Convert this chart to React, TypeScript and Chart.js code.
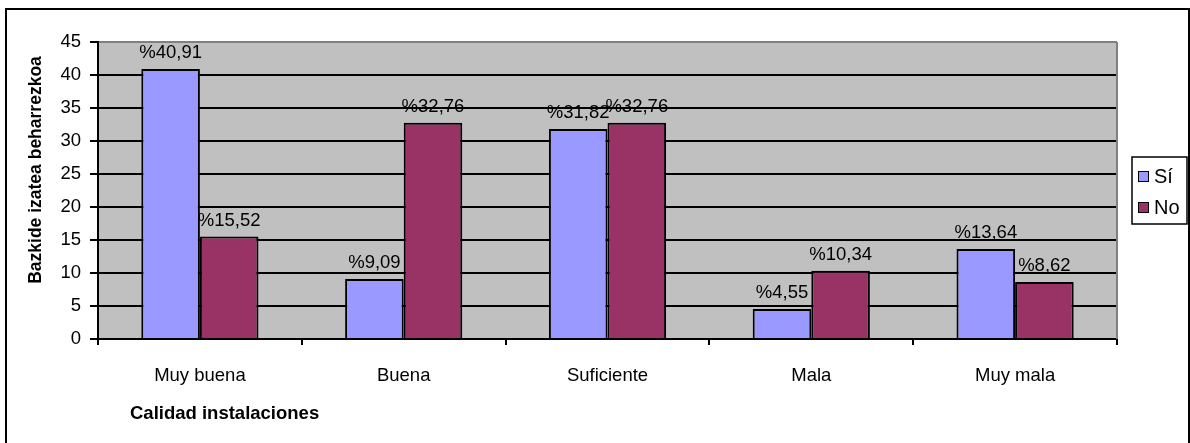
import React, { useEffect, useRef } from "react";
import { Chart, registerables } from "chart.js";

Chart.register(...registerables);

const categories = ["Muy buena", "Buena", "Suficiente", "Mala", "Muy mala"];
const seriesNames = ["Sí", "No"];
const siValues = [40.91, 9.09, 31.82, 4.55, 13.64];
const noValues = [15.52, 32.76, 32.76, 10.34, 8.62];
const seriesColors = ["#9999FF", "#993366"];
const yTitle = "Bazkide izatea beharrezkoa";
const xTitle = "Calidad instalaciones";

const FONT = "'Liberation Sans', Arial, sans-serif";

const fmt = (v: number) => "%" + v.toFixed(2).replace(".", ",");

const decorPlugin = {
  id: "decor",
  beforeDraw(chart: any) {
    const { ctx, chartArea } = chart;
    ctx.save();
    ctx.fillStyle = "#ffffff";
    ctx.fillRect(0, 0, chart.width, chart.height);
    ctx.fillStyle = "#C0C0C0";
    ctx.fillRect(chartArea.left, chartArea.top, chartArea.right - chartArea.left, chartArea.bottom - chartArea.top);
    ctx.restore();
  },
  afterDatasetsDraw(chart: any) {
    const { ctx, chartArea } = chart;
    ctx.save();
    ctx.strokeStyle = "#808080";
    ctx.lineWidth = 2;
    ctx.beginPath();
    ctx.moveTo(chartArea.right, chartArea.top);
    ctx.lineTo(chartArea.right, chartArea.bottom);
    ctx.stroke();
    ctx.fillStyle = "#000";
    ctx.font = `18.5px ${FONT}`;
    ctx.textAlign = "center";
    ctx.textBaseline = "alphabetic";
    chart.data.datasets.forEach((ds: any, di: number) => {
      const meta = chart.getDatasetMeta(di);
      meta.data.forEach((el: any, i: number) => {
        ctx.fillText(fmt(ds.data[i]), el.x, el.y - 11);
      });
    });
    ctx.restore();
  },
  afterDraw(chart: any) {
    const { ctx } = chart;
    ctx.save();
    ctx.strokeStyle = "#000";
    ctx.lineWidth = 2;
    ctx.strokeRect(6, 9, 1183, 460);
    ctx.fillStyle = "#000";
    ctx.font = `bold 18.5px ${FONT}`;
    ctx.textAlign = "left";
    ctx.textBaseline = "alphabetic";
    ctx.fillText(xTitle, 130, 419);
    ctx.save();
    ctx.translate(36, 170);
    ctx.rotate(-Math.PI / 2);
    ctx.textAlign = "center";
    ctx.textBaseline = "middle";
    ctx.font = `bold 17.5px ${FONT}`;
    ctx.fillText(yTitle, 0, 0);
    ctx.restore();
    ctx.lineWidth = 1.5;
    ctx.strokeStyle = "#000";
    ctx.strokeRect(1132, 157, 55, 67);
    const ys = [176.5, 207.5];
    ctx.font = `20px ${FONT}`;
    ctx.textBaseline = "middle";
    ctx.textAlign = "left";
    seriesNames.forEach((n, i) => {
      ctx.fillStyle = seriesColors[i];
      ctx.fillRect(1138, ys[i] - 5.5, 11, 11);
      ctx.lineWidth = 1;
      ctx.strokeRect(1138.5, ys[i] - 5, 10, 10);
      ctx.fillStyle = "#000";
      ctx.fillText(n, 1154, ys[i] + 1);
    });
    ctx.restore();
  },
};

export default function App() {
  const ref = useRef<HTMLCanvasElement>(null);
  useEffect(() => {
    if (!ref.current) return;
    const chart = new Chart(ref.current, {
      type: "bar",
      data: {
        labels: categories,
        datasets: [
          {
            label: seriesNames[0],
            data: siValues,
            backgroundColor: seriesColors[0],
            borderColor: "#000",
            borderWidth: 2,
            categoryPercentage: 0.575,
            barPercentage: 1,
          },
          {
            label: seriesNames[1],
            data: noValues,
            backgroundColor: seriesColors[1],
            borderColor: "#000",
            borderWidth: 2,
            categoryPercentage: 0.575,
            barPercentage: 1,
          },
        ],
      },
      options: {
        responsive: false,
        animation: false,
        layout: { padding: { left: 0, top: 42, right: 73, bottom: 0 } },
        plugins: {
          legend: { display: false },
          tooltip: { enabled: false },
          title: { display: false },
        },
        scales: {
          x: {
            grid: {
              offset: true,
              drawOnChartArea: false,
              drawTicks: true,
              tickLength: 6,
              color: "#000",
              lineWidth: 2,
            },
            border: { color: "#000", width: 2 },
            ticks: {
              color: "#000",
              font: { family: FONT, size: 18.5 },
              padding: 20,
              maxRotation: 0,
            },
            afterFit(scale: any) {
              scale.height = 104;
            },
          },
          y: {
            min: 0,
            max: 45,
            ticks: {
              stepSize: 5,
              color: "#000",
              font: { family: FONT, size: 18.5 },
              padding: 9,
            },
            grid: {
              color: (c: any) => (c.tick && c.tick.value === 45 ? "#808080" : "#000"),
              tickColor: "#000",
              lineWidth: 2,
              tickLength: 8,
            },
            border: { color: "#000", width: 2 },
            afterFit(scale: any) {
              scale.width = 98;
            },
          },
        },
      },
      plugins: [decorPlugin],
    });
    return () => chart.destroy();
  }, []);
  return (
    <div style={{ position: "fixed", left: 0, top: 0, width: 1190, height: 443, background: "#fff" }}>
      <canvas ref={ref} width={1190} height={443} />
    </div>
  );
}
